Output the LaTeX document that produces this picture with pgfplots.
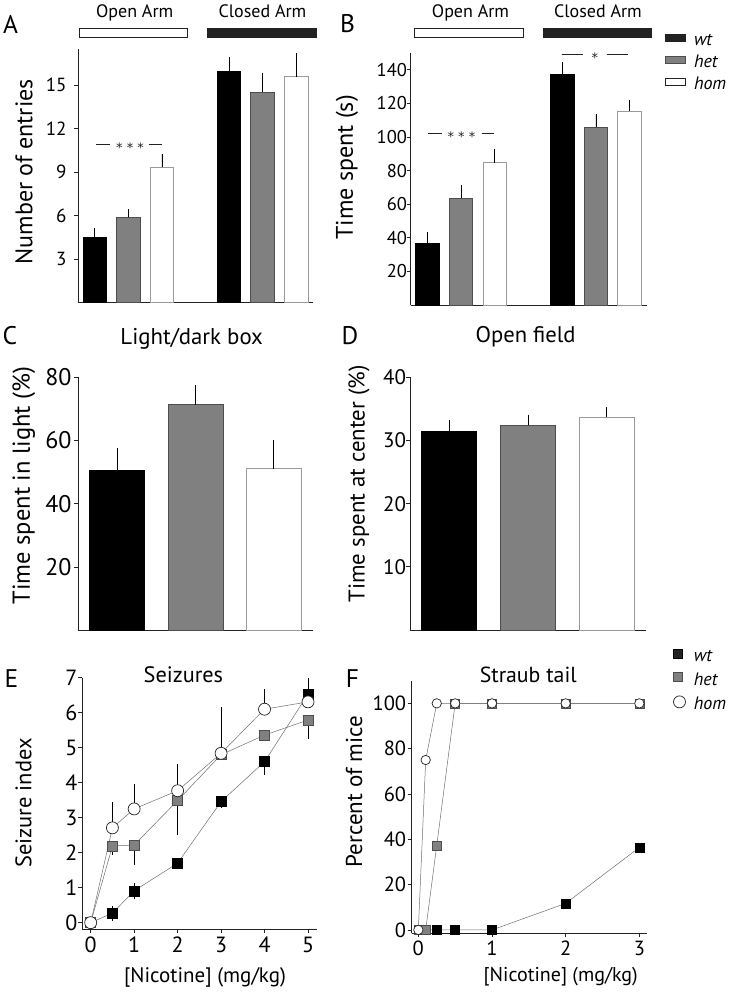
\documentclass[border=0pt]{standalone}
\usepackage{fontspec}
\setmainfont{PT Sans}
\newfontfamily\dejavu{DejaVu Sans}
\usepackage{pgfplots}
\usepackage{pgfplotstable}
\pgfplotsset{compat=1.18}
\newcommand{\fs}[1]{\fontsize{#1}{#1}\selectfont}
\definecolor{midgray}{HTML}{808080}
\definecolor{edgegray}{HTML}{4D4D4D}
\definecolor{wedge}{HTML}{9A9A9A}
\definecolor{linegray}{HTML}{6E6E6E}
\definecolor{axgray}{HTML}{222222}

\pgfplotsset{
  panel/.style={
    scale only axis,
    axis x line*=bottom, axis y line*=left,
    axis line style={axgray, line width=0.8pt},
    tick style={axgray, line width=0.7pt},
    tick align=outside,
    major tick length=4pt,
    /pgf/number format/assume math mode=true,
    clip=false,
    ylabel style={anchor=center},
    title style={anchor=center, yshift=0pt},
    xlabel style={anchor=center},
  },
  barpanel/.style={panel, xtick=\empty, ymin=0},
  barplot/.style={ybar, bar width=0.7, bar shift=0pt, line width=0.8pt,
     error bars/y dir=plus, error bars/y explicit, error bars/error mark=none,
     error bars/error bar style={black, line width=0.8pt}},
  lineplot/.style={linegray, line width=0.5pt,
     error bars/y dir=both, error bars/y explicit, error bars/error mark=none,
     error bars/error bar style={black, line width=0.8pt}},
}
\newcommand{\stars}[1]{{\dejavu\fs{13}#1}}

\pgfplotstableread{
x y ep em
0 0 0 0
0.5 0.27 0.22 0.22
1 0.91 0.22 0.22
2 1.70 0 0
3 3.46 0 0.19
4 4.60 0 0.38
5 6.53 0.45 0
}\Ewt
\pgfplotstableread{
x y ep em
0 0 0 0
0.5 2.19 0 0.26
1 2.22 0 0.57
2 3.49 0 0.99
3 4.80 0 0
4 5.36 0 0
5 5.79 0 0.55
}\Ehet
\pgfplotstableread{
x y ep em
0 0 0 0
0.5 2.71 0.75 0
1 3.25 0.71 0
2 3.77 0.76 0
3 4.84 1.31 0
4 6.10 0.57 0
5 6.31 0 0
}\Ehom

\begin{document}
\begin{tikzpicture}
\useasboundingbox (0,0) rectangle (729pt,-993pt);

% ---------------- Panel A ----------------
\begin{axis}[barpanel, at={(78pt,-302.7pt)}, anchor=south west,
  width=235pt, height=253.7pt, xmin=0.5, xmax=7.5, ymax=17.5,
  ytick={3,6,9,12,15},
  yticklabel style={font=\fs{19}, xshift=-4pt},
  ylabel={Number of entries},
  ylabel style={font=\fs{24}, at={(axis description cs:-0.23,0.516)}}]
\addplot[barplot, fill=black, draw=black] coordinates {(1,4.48) +- (0,0.65) (5,15.96) +- (0,0.96)};
\addplot[barplot, fill=midgray, draw=edgegray] coordinates {(2,5.89) +- (0,0.57) (6,14.51) +- (0,1.31)};
\addplot[barplot, fill=white, draw=wedge] coordinates {(3,9.34) +- (0,0.92) (7,15.59) +- (0,1.61)};
\draw[axgray, line width=0.7pt] (axis cs:1.04,10.92) -- (axis cs:1.45,10.92);
\draw[axgray, line width=0.7pt] (axis cs:2.61,10.92) -- (axis cs:3.0,10.92);
\node[text=axgray, yshift=-3pt] at (axis cs:2.05,10.92) {\stars{* * *}};
\end{axis}

% ---------------- Panel B ----------------
\begin{axis}[barpanel, at={(410.5pt,-305pt)}, anchor=south west,
  width=236pt, height=252pt, xmin=0.5, xmax=7.5, ymax=150,
  ytick={20,40,...,140},
  yticklabel style={font=\fs{18.5}, xshift=4pt},
  ylabel={Time spent (s)},
  ylabel style={font=\fs{24}, at={(axis description cs:-0.269,0.546)}},
  legend style={at={(axis description cs:1.0784,1.080)}, anchor=north west,
    draw=none, fill=none, font=\fs{18}\itshape, inner sep=0pt, row sep=6pt,
    column sep=8pt, nodes={inner sep=0pt, text height=12pt, text depth=4pt}},
  legend cell align=left]
\addplot[barplot, fill=black, draw=black, forget plot] coordinates {(1,36.9) +- (0,6.4) (5,137.5) +- (0,7.0)};
\addplot[barplot, fill=midgray, draw=edgegray, forget plot] coordinates {(2,63.5) +- (0,7.9) (6,105.8) +- (0,7.7)};
\addplot[barplot, fill=white, draw=wedge, forget plot] coordinates {(3,84.7) +- (0,8.2) (7,115.5) +- (0,6.5)};
\addlegendimage{legend image code/.code={\draw[fill=axgray, draw=axgray, line width=0.8pt] (0pt,0pt) rectangle (20pt,7pt);}}
\addlegendentry{wt}
\addlegendimage{legend image code/.code={\draw[fill=midgray, draw=edgegray, line width=0.8pt] (0pt,0pt) rectangle (20pt,7pt);}}
\addlegendentry{het}
\addlegendimage{legend image code/.code={\draw[fill=white, draw=axgray, line width=0.8pt] (0pt,0pt) rectangle (20pt,7pt);}}
\addlegendentry{hom}
\draw[axgray, line width=0.7pt] (axis cs:1.02,102.2) -- (axis cs:1.43,102.2);
\draw[axgray, line width=0.7pt] (axis cs:2.61,102.2) -- (axis cs:2.99,102.2);
\node[text=axgray, yshift=-3pt] at (axis cs:2.01,102.2) {\stars{* * *}};
\draw[axgray, line width=0.7pt] (axis cs:4.98,149.2) -- (axis cs:5.61,149.2);
\draw[axgray, line width=0.7pt] (axis cs:6.32,149.2) -- (axis cs:6.94,149.2);
\node[text=axgray, yshift=-3pt] at (axis cs:5.97,149.2) {\stars{*}};
\end{axis}

% ---------------- Panel C ----------------
\begin{axis}[barpanel, at={(78pt,-630.3pt)}, anchor=south west,
  width=235pt, height=253pt, xmin=0.5, xmax=3.5, ymax=80,
  ytick={20,40,60,80},
  yticklabel style={font=\fs{24}, xshift=1pt},
  title={Light/dark box},
  title style={font=\fs{22.8}, at={(axis description cs:0.484,1.13)}},
  ylabel={Time spent in light (\%)},
  ylabel style={font=\fs{24.5}, at={(axis description cs:-0.23,0.572)}}]
\addplot[barplot, fill=black, draw=black] coordinates {(1,50.6) +- (0,7.0)};
\addplot[barplot, fill=midgray, draw=edgegray] coordinates {(2,71.3) +- (0,6.3)};
\addplot[barplot, fill=white, draw=wedge] coordinates {(3,51.1) +- (0,9.1)};
\end{axis}

% ---------------- Panel D ----------------
\begin{axis}[barpanel, at={(410pt,-630pt)}, anchor=south west,
  width=236pt, height=252.7pt, xmin=0.5, xmax=3.5, ymax=40,
  ytick={10,20,30,40},
  yticklabel style={font=\fs{21}, xshift=3.5pt},
  title={Open field},
  title style={font=\fs{22.6}, at={(axis description cs:0.49,1.135)}},
  ylabel={Time spent at center (\%)},
  ylabel style={font=\fs{22.8}, at={(axis description cs:-0.216,0.578)}}]
\addplot[barplot, fill=black, draw=black] coordinates {(1,31.4) +- (0,1.9)};
\addplot[barplot, fill=midgray, draw=edgegray] coordinates {(2,32.4) +- (0,1.7)};
\addplot[barplot, fill=white, draw=wedge] coordinates {(3,33.7) +- (0,1.6)};
\end{axis}

% ---------------- Panel E ----------------
\begin{axis}[panel, at={(82pt,-929.3pt)}, anchor=south west,
  width=234.7pt, height=251.6pt, xmin=-0.2, xmax=5.2, ymin=-0.19, ymax=7,
  xtick={0,1,2,3,4,5}, ytick={0,1,...,7},
  ticklabel style={font=\fs{22}},
  yticklabel style={xshift=3pt},
  title={Seizures},
  title style={font=\fs{22.3}, at={(axis description cs:0.432,0.987)}},
  xlabel={[Nicotine] (mg/kg)},
  xlabel style={font=\fs{21}, at={(axis description cs:0.524,-0.19)}},
  ylabel={Seizure index},
  ylabel style={font=\fs{22.5}, at={(axis description cs:-0.249,0.502)}}]
\addplot[lineplot, mark=square*, mark size=5pt, mark options={solid, fill=black, draw=black, line width=0.6pt}]
  table[x=x, y=y, y error plus=ep, y error minus=em] {\Ewt};
\addplot[lineplot, mark=square*, mark size=5pt, mark options={solid, fill=midgray, draw=edgegray, line width=0.6pt}]
  table[x=x, y=y, y error plus=ep, y error minus=em] {\Ehet};
\addplot[lineplot, mark=*, mark size=6pt, mark options={solid, fill=white, draw=axgray, line width=0.7pt}]
  table[x=x, y=y, y error plus=ep, y error minus=em] {\Ehom};
\end{axis}

% ---------------- Panel F ----------------
\begin{axis}[panel, at={(411.7pt,-933.3pt)}, anchor=south west,
  width=235pt, height=252.6pt, xmin=-0.09, xmax=3.1, ymin=-1.5, ymax=110,
  xtick={0,1,2,3}, ytick={0,20,...,100},
  ticklabel style={font=\fs{20.5}},
  yticklabel style={xshift=2pt},
  title={Straub tail},
  title style={font=\fs{21.8}, at={(axis description cs:0.496,1.0)}},
  xlabel={[Nicotine] (mg/kg)},
  xlabel style={font=\fs{20}, at={(axis description cs:0.634,-0.173)}},
  ylabel={Percent of mice},
  ylabel style={font=\fs{23}, at={(axis description cs:-0.245,0.561)}},
  legend style={at={(axis description cs:1.1098,1.1267)}, anchor=north west,
    draw=none, fill=none, font=\fs{18}\itshape, inner sep=0pt, row sep=6.5pt,
    column sep=8pt, nodes={inner sep=0pt, text height=12pt, text depth=4pt}},
  legend cell align=left]
\addplot[linegray, line width=0.5pt, mark=square*, mark size=4.5pt, mark options={solid, fill=black, draw=black}, forget plot]
  coordinates {(0,0) (0.1,0) (0.25,0) (0.5,0) (1,0) (2,11.7) (3,36.4)};
\addplot[linegray, line width=0.5pt, mark=square*, mark size=4.5pt, mark options={solid, fill=midgray, draw=edgegray}, forget plot]
  coordinates {(0,0) (0.1,0) (0.25,37.3) (0.5,100) (1,100) (2,100) (3,100)};
\addplot[linegray, line width=0.5pt, mark=*, mark size=4.7pt, mark options={solid, fill=white, draw=axgray, line width=0.7pt}, forget plot]
  coordinates {(0,0) (0.1,75) (0.25,100) (0.5,100) (1,100) (2,100) (3,100)};
\addlegendimage{legend image code/.code={\draw[fill=axgray, draw=black, line width=0.6pt] (0pt,-0.5pt) rectangle (9pt,8.5pt);}}
\addlegendentry{wt}
\addlegendimage{legend image code/.code={\draw[fill=midgray, draw=edgegray, line width=0.6pt] (0pt,-0.5pt) rectangle (9pt,8.5pt);}}
\addlegendentry{het}
\addlegendimage{legend image code/.code={\draw[fill=white, draw=axgray, line width=0.7pt] (6.5pt,4pt) circle (6pt);}}
\addlegendentry{hom}
\end{axis}

% ---------------- decorations ----------------
\draw[axgray, line width=0.8pt, fill=white] (79pt,-28pt) rectangle (187.7pt,-37.7pt);
\fill[axgray] (207pt,-28pt) rectangle (316.7pt,-37.7pt);
\draw[axgray, line width=0.8pt, fill=white] (414.3pt,-28pt) rectangle (523.3pt,-37.7pt);
\fill[axgray] (543pt,-28pt) rectangle (652.3pt,-37.7pt);
\node[font=\fs{18}, anchor=base] at (134.7pt,-17.3pt) {Open Arm};
\node[font=\fs{18}, anchor=base] at (262.5pt,-17.3pt) {Closed Arm};
\node[font=\fs{18}, anchor=base] at (470.5pt,-17.3pt) {Open Arm};
\node[font=\fs{18}, anchor=base] at (598pt,-17.3pt) {Closed Arm};

\node[font=\fs{25.5}] at (10.5pt,-24pt) {A};
\node[font=\fs{25.5}] at (347.5pt,-24pt) {B};
\node[font=\fs{25.5}] at (10pt,-336pt) {C};
\node[font=\fs{25.5}] at (350pt,-336pt) {D};
\node[font=\fs{25.5}] at (11.5pt,-679pt) {E};
\node[font=\fs{25.5}] at (352.5pt,-679pt) {F};
\end{tikzpicture}
\end{document}
